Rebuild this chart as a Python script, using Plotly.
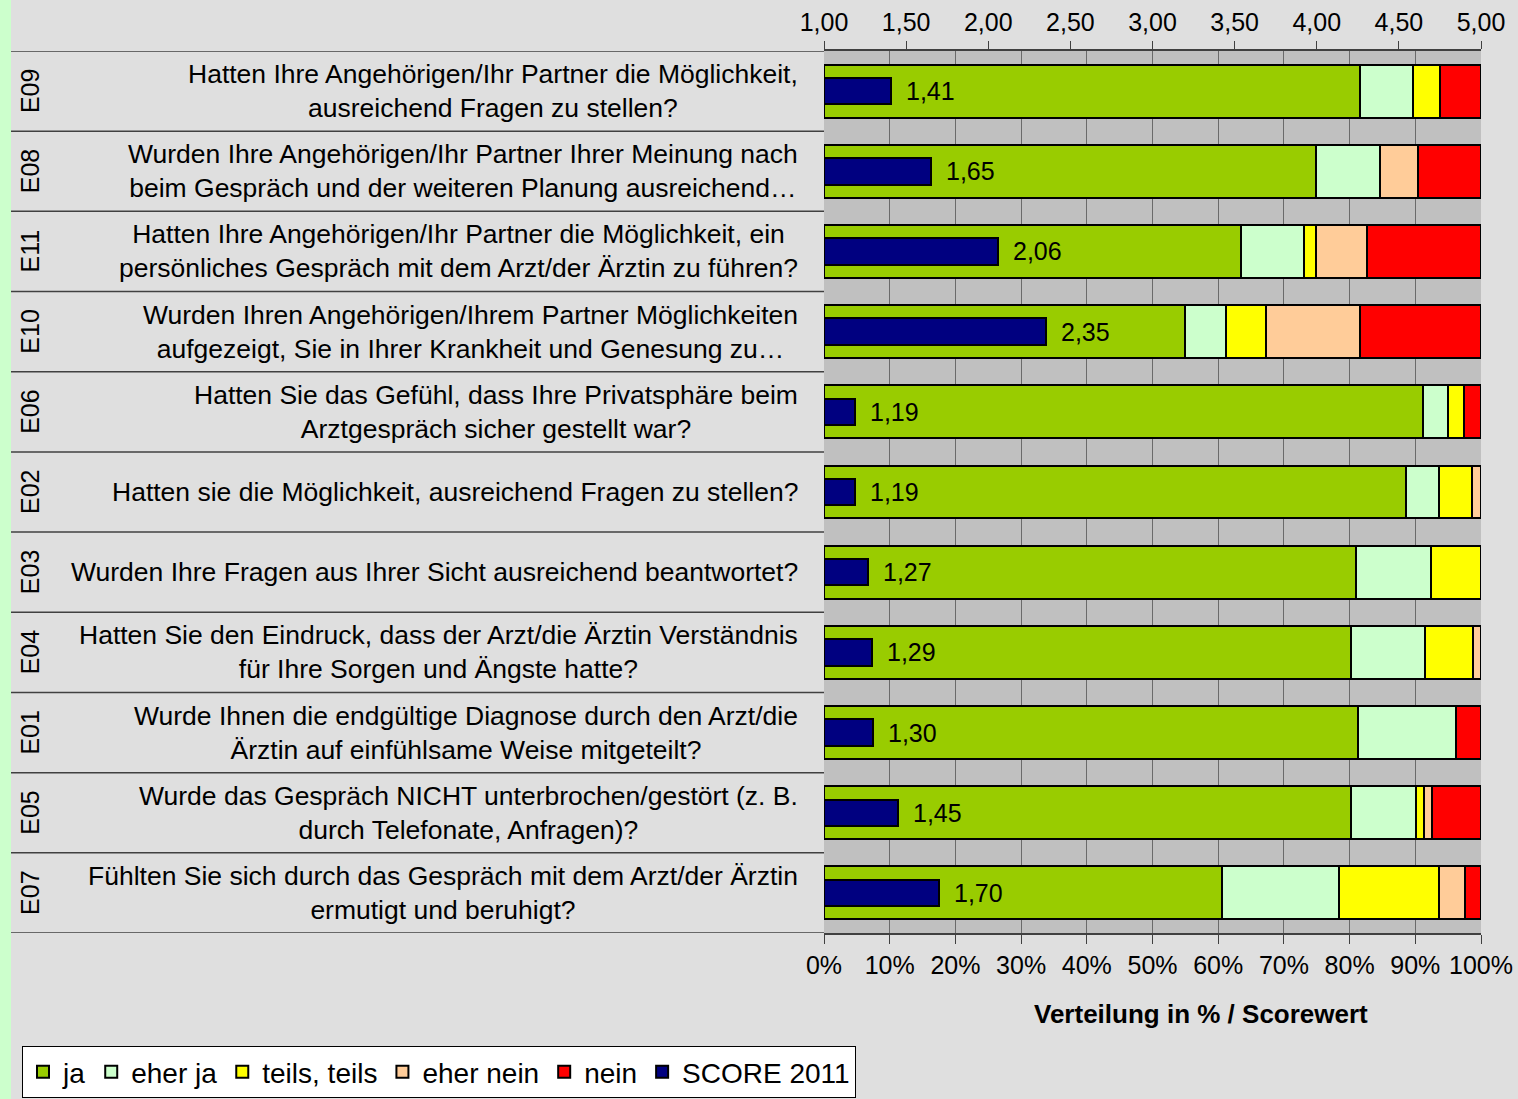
import plotly.graph_objects as go

codes = ["E09", "E08", "E11", "E10", "E06", "E02", "E03", "E04", "E01", "E05", "E07"]
questions = [
    "Hatten Ihre Angehörigen/Ihr Partner die Möglichkeit,<br>ausreichend Fragen zu stellen?",
    "Wurden Ihre Angehörigen/Ihr Partner Ihrer Meinung nach<br>beim Gespräch und der weiteren Planung ausreichend…",
    "Hatten Ihre Angehörigen/Ihr Partner die Möglichkeit, ein<br>persönliches Gespräch mit dem Arzt/der Ärztin zu führen?",
    "Wurden Ihren Angehörigen/Ihrem Partner Möglichkeiten<br>aufgezeigt, Sie in Ihrer Krankheit und Genesung zu…",
    "Hatten Sie das Gefühl, dass Ihre Privatsphäre beim<br>Arztgespräch sicher gestellt war?",
    "Hatten sie die Möglichkeit, ausreichend Fragen zu stellen?",
    "Wurden Ihre Fragen aus Ihrer Sicht ausreichend beantwortet?",
    "Hatten Sie den Eindruck, dass der Arzt/die Ärztin Verständnis<br>für Ihre Sorgen und Ängste hatte?",
    "Wurde Ihnen die endgültige Diagnose durch den Arzt/die<br>Ärztin auf einfühlsame Weise mitgeteilt?",
    "Wurde das Gespräch NICHT unterbrochen/gestört (z. B.<br>durch Telefonate, Anfragen)?",
    "Fühlten Sie sich durch das Gespräch mit dem Arzt/der Ärztin<br>ermutigt und beruhigt?",
]

ja =        [81.6, 74.9, 63.5, 54.9, 91.2, 88.6, 81.0, 80.2, 81.3, 80.2, 60.6]
eher_ja =   [8.1,  9.7,  9.6,  6.3,  3.8,  5.0, 11.4, 11.3, 14.9,  9.9, 17.8]
teils =     [4.1,  0.0,  1.8,  6.1,  2.4,  5.0,  7.6,  7.3,  0.0,  1.2, 15.2]
eher_nein = [0.0,  5.8,  7.7, 14.3,  0.0,  1.4,  0.0,  1.2,  0.0,  1.2,  3.9]
nein =      [6.2,  9.6, 17.4, 18.4,  2.6,  0.0,  0.0,  0.0,  3.8,  7.5,  2.5]
score =     [1.41, 1.65, 2.06, 2.35, 1.19, 1.19, 1.27, 1.29, 1.30, 1.45, 1.70]

series = [
    ("ja", ja, "#99cc00"),
    ("eher ja", eher_ja, "#ccffcc"),
    ("teils, teils", teils, "#ffff00"),
    ("eher nein", eher_nein, "#ffcc99"),
    ("nein", nein, "#ff0000"),
]

FONT = "Liberation Sans, Arial, sans-serif"
W, H = 1518, 1099
L, R, T, B = 824, 37, 51, 166
PW = W - L - R
PH = H - T - B


def px(xpix):
    return (xpix - L) / PW


def py(ypix):
    return (H - B - ypix) / PH


fig = go.Figure()
for name, vals, col in series:
    fig.add_trace(go.Bar(
        y=codes, x=vals, name=name, orientation="h",
        marker=dict(color=col, line=dict(color="black", width=2)),
        width=0.66, xaxis="x", yaxis="y", hoverinfo="skip",
    ))

fig.add_trace(go.Bar(
    y=codes, x=[s - 1 for s in score], base=1, name="SCORE 2011", orientation="h",
    marker=dict(color="#000080", line=dict(color="black", width=2)),
    width=0.33, xaxis="x2", yaxis="y", hoverinfo="skip",
))

annotations = []
for c, s in zip(codes, score):
    annotations.append(dict(
        xref="x2", yref="y", x=s, y=c, text=f"{s:.2f}".replace(".", ","),
        xanchor="left", yanchor="middle", xshift=13, showarrow=False,
        font=dict(family=FONT, size=25, color="black"),
    ))
for c, q in zip(codes, questions):
    annotations.append(dict(
        xref="paper", yref="y", x=px(800), y=c, text=q, xanchor="right",
        yanchor="middle", align="center", showarrow=False,
        font=dict(family=FONT, size=26.5, color="black"),
    ))
    annotations.append(dict(
        xref="paper", yref="y", x=px(30), y=c, text=c, textangle=-90,
        xanchor="center", yanchor="middle", showarrow=False,
        font=dict(family=FONT, size=25, color="black"),
    ))
annotations.append(dict(
    xref="paper", yref="paper", x=px(1201), y=py(1014), text="<b>Verteilung in % / Scorewert</b>",
    xanchor="center", yanchor="middle", showarrow=False,
    font=dict(family=FONT, size=26, color="black"),
))

shapes = [dict(type="rect", xref="paper", yref="paper", x0=px(0), x1=px(11), y0=py(H + 5), y1=py(-5),
               fillcolor="#ccffcc", line=dict(width=0), layer="below")]
for i in range(len(codes) + 1):
    shapes.append(dict(type="line", xref="paper", yref="y", x0=px(11), x1=0,
                       y0=i - 0.5, y1=i - 0.5, line=dict(color="#404040", width=1.5)))

fig.update_layout(
    width=W, height=H,
    margin=dict(l=L, r=R, t=T, b=B, autoexpand=False),
    paper_bgcolor="#dfdfdf", plot_bgcolor="#c0c0c0",
    barmode="stack", bargap=0.3,
    separators=",.",
    font=dict(family=FONT, size=25, color="black"),
    xaxis=dict(range=[0, 100], dtick=10, ticksuffix="%", ticks="outside", ticklen=9,
               tickcolor="#404040", showline=True, linecolor="#404040", linewidth=1.5,
               showgrid=True, gridcolor="#6a6a6a", gridwidth=1, zeroline=False,
               tickfont=dict(size=25), fixedrange=True),
    xaxis2=dict(range=[1, 5], dtick=0.5, tickformat=".2f", overlaying="x", side="top",
                anchor="y", ticks="outside", ticklen=8, tickcolor="#404040",
                showline=True, linecolor="#404040", linewidth=1.5, showgrid=False,
                zeroline=False, tickfont=dict(size=25), fixedrange=True),
    yaxis=dict(range=[len(codes) - 0.5, -0.5], showticklabels=False, showgrid=False,
               zeroline=False, ticks="", fixedrange=True),
    legend=dict(orientation="h", x=px(22), y=py(1046), xanchor="left", yanchor="top",
                bgcolor="white", bordercolor="black", borderwidth=1,
                font=dict(family=FONT, size=28), traceorder="normal"),
    annotations=annotations,
    shapes=shapes,
)

fig.write_html("out.html", config={"displayModeBar": False},
               post_script="document.body.style.margin='0px';document.body.style.overflow='hidden';")
